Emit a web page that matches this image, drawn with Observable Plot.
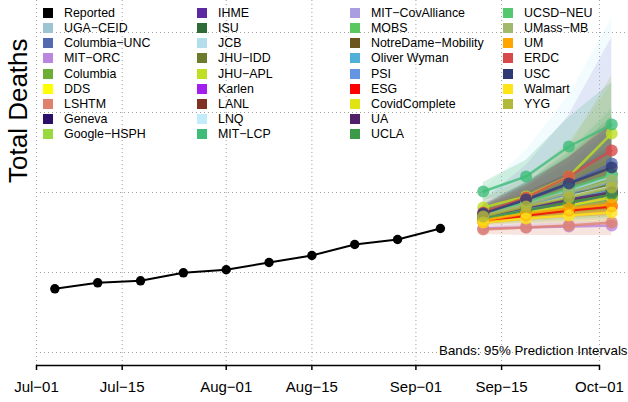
<!DOCTYPE html>
<html><head><meta charset="utf-8">
<script src="https://cdn.jsdelivr.net/npm/d3@7"></script>
<script src="https://cdn.jsdelivr.net/npm/@observablehq/plot@0.6"></script>
<style>
body{margin:0;background:#fff;}
#wrap{position:relative;width:628px;height:402px;font-family:"Liberation Sans",Arial,Helvetica,sans-serif;}
#legend{position:absolute;left:0;top:0;width:628px;height:150px;pointer-events:none;}
.item{position:absolute;height:15px;display:flex;align-items:center;font-size:12.4px;white-space:nowrap;color:#000;}
.sw{width:10px;height:10px;margin-right:11px;flex:none;}
</style></head><body><div id="wrap"></div>
<script>
// ---- data ----
const reportedDates = ["2020-07-04","2020-07-11","2020-07-18","2020-07-25","2020-08-01","2020-08-08","2020-08-15","2020-08-22","2020-08-29","2020-09-05"];
const reportedDeaths = [4796, 4871, 4896, 4996, 5034, 5125, 5213, 5350, 5413, 5550];

const models = ["UGA-CEID","Columbia-UNC","MIT-ORC","Columbia","DDS","LSHTM","Geneva","Google-HSPH","IHME","ISU","JCB","JHU-IDD","JHU-APL","Karlen","LANL","LNQ","MIT-LCP","MIT-CovAlliance","MOBS","NotreDame-Mobility","Oliver Wyman","PSI","ESG","CovidComplete","UA","UCLA","UCSD-NEU","UMass-MB","UM","ERDC","USC","Walmart","YYG"];
const modelColors = ["#9cc4d2","#5369b0","#bb86e0","#6cad33","#ffff00","#e0826a","#2b0f68","#98da3e","#5c2aa0","#2f6b36","#b2dfeb","#6d7b2d","#bedf22","#a21ff0","#7f3222","#c2ecfa","#3fbd78","#a99edf","#5ac85e","#6b5420","#4fb0d8","#6395e3","#ff0000","#e0e414","#52206a","#3b9a48","#55c76e","#a2b86c","#ffa500","#d84a4a","#2f3a74","#ffe41a","#b1b83a"];

const forecastDates = ["2020-09-12","2020-09-19","2020-09-26","2020-10-03"];
const pointForecast = [
  [5700,5813,5938,6050],[5725,5900,6113,6363],[5550,5563,5575,5588],[5700,5825,5988,6175],
  [5675,5800,5963,6150],[5538,5563,5588,5625],[5713,5863,6000,6025],[5675,5775,5875,5963],
  [5688,5775,5875,5975],[5700,5838,6025,6225],[5713,5863,6025,6200],[5700,5825,5963,6100],
  [5813,5950,6200,6738],[5675,5763,5850,5925],[5700,5813,5925,6025],[5700,5825,5950,6075],
  [6013,6200,6575,6850],[5688,5788,5900,6000],[5663,5750,5838,5925],[5688,5788,5888,5988],
  [5688,5800,5925,6038],[5700,5838,5988,6138],[5638,5713,5775,5825],[5663,5750,5838,5938],
  [5700,5813,5913,6000],[5675,5775,5875,5975],[5725,5875,6050,6225],[5713,5850,6000,6150],
  [5650,5738,5800,5850],[5750,5938,6200,6525],[5738,5913,6113,6313],[5625,5675,5713,5750],
  [5700,5825,5938,6063]
];
const lower95 = [
  [5650,5713,5775,5825],[5663,5775,5900,6038],[5538,5550,5550,5563],[5638,5725,5825,5925],
  [5625,5700,5788,5875],[5475,5462,5462,5462],[5663,5763,5850,5838],[5613,5663,5700,5738],
  [5650,5700,5763,5825],[5625,5688,5763,5838],[5638,5713,5788,5850],[5625,5675,5738,5788],
  [5700,5750,5825,5900],[5613,5663,5700,5738],[5650,5725,5788,5838],[5575,5600,5625,5638],
  [5900,6013,6250,6438],[5588,5613,5638,5663],[5600,5638,5663,5688],[5625,5675,5713,5750],
  [5638,5700,5763,5813],[5625,5700,5775,5838],[5600,5650,5688,5713],[5600,5650,5700,5738],
  [5638,5700,5750,5788],[5625,5688,5738,5788],[5650,5738,5838,5925],[5638,5713,5788,5850],
  [5600,5663,5700,5725],[5675,5800,6000,6238],[5650,5775,5925,6063],[5588,5613,5625,5638],
  [5638,5725,5800,5863]
];
const upper95 = [
  [5775,6000,6250,6550],[5825,6100,6475,6950],[5575,5600,5625,5650],[5800,6000,6300,6700],
  [5763,5975,6263,6650],[5625,5725,5850,6000],[5788,6013,6238,6400],[5775,5963,6200,6475],
  [5750,5913,6113,6350],[5813,6063,6450,6950],[5825,6113,6525,7075],[5813,6050,6363,6775],
  [5925,6175,6625,7350],[5763,5925,6125,6388],[5775,5950,6163,6425],[6025,6525,7213,8175],
  [6125,6400,6938,7375],[5900,6338,6963,7938],[5763,5938,6163,6450],[5788,5988,6238,6600],
  [5775,5975,6225,6550],[5813,6050,6375,6800],[5700,5825,5950,6088],[5763,5925,6125,6400],
  [5800,6000,6238,6538],[5763,5938,6150,6425],[5838,6113,6500,7038],[5813,6100,6563,7463],
  [5725,5863,6000,6138],[5838,6088,6438,6900],[5850,6125,6438,6850],[5688,5788,5888,5988],
  [5800,6000,6200,6488]
];
const xTickDates = ["2020-07-01","2020-07-15","2020-08-01","2020-08-15","2020-09-01","2020-09-15","2020-10-01"];
const yGridValues = [4000, 5000, 6000, 7000, 8000];

// ---- build ----
const parse = d3.utcParse("%Y-%m-%d");
const reported = reportedDates.map((d, i) => ({date: parse(d), deaths: reportedDeaths[i]}));
const fc = [];
models.forEach((m, i) => forecastDates.forEach((d, j) => fc.push({
  model: m, date: parse(d), point: pointForecast[i][j], lo: lower95[i][j], hi: upper95[i][j]
})));
const yMin = 3837.5, yMax = 8400;
const dash = s => s.replace(/-/g, "\u2212");
const fmt = d => dash(d3.utcFormat("%b-%d")(d));
const ticks = xTickDates.map(parse);
const gridStyle = {stroke: "#a0a0a0", strokeOpacity: 1, strokeDasharray: "1,3", strokeWidth: 1};

const chart = Plot.plot({
  width: 628, height: 402,
  marginLeft: 36, marginRight: 0, marginTop: 0, marginBottom: 37,
  style: {fontFamily: '"Liberation Sans", Arial, Helvetica, sans-serif', background: "white", color: "black", overflow: "visible"},
  x: {type: "utc", domain: [parse("2020-07-01"), new Date(Date.UTC(2020, 9, 5, 17, 45))]},
  y: {domain: [yMin, yMax], axis: null},
  color: {domain: models, range: modelColors},
  marks: [
    Plot.gridY(yGridValues, gridStyle),
    Plot.gridX(ticks, gridStyle),
    Plot.areaY(fc, {x: "date", y1: "lo", y2: "hi", z: "model", fill: "model", fillOpacity: 0.22}),
    Plot.line(fc, {x: "date", y: "point", z: "model", stroke: "model", strokeWidth: 2.5, strokeOpacity: 0.8}),
    Plot.dot(fc, {x: "date", y: "point", fill: "model", r: 6, fillOpacity: 0.8}),
    Plot.line(reported, {x: "date", y: "deaths", stroke: "black", strokeWidth: 2}),
    Plot.dot(reported, {x: "date", y: "deaths", fill: "black", r: 4.7}),
    Plot.ruleY([yMin], {x1: () => ticks[0], x2: () => ticks[ticks.length - 1], stroke: "black", strokeWidth: 1.5}),
    Plot.axisX(ticks, {tickFormat: fmt, tickSize: 5, tickPadding: 11, fontSize: 15, stroke: "black", strokeWidth: 1.5}),
    Plot.text(["Total Deaths"], {frameAnchor: "left", rotate: -90, dx: -18, fontSize: 26, lineAnchor: "middle", text: d => d}),
    Plot.text(["Bands: 95% Prediction Intervals"], {frameAnchor: "bottom-right", textAnchor: "end", lineAnchor: "middle", dx: -1, dy: -14.5, fontSize: 13.3, text: d => d})
  ]
});
const wrap = document.getElementById("wrap");
wrap.appendChild(chart);

// legend (inside plot, top-left, 4 columns)
const legendNames = ["Reported", ...models];
const legendColors = ["#000000", ...modelColors];
const colX = [43, 197, 350, 503];
const leg = document.createElement("div");
leg.id = "legend";
legendNames.forEach((n, k) => {
  const col = Math.floor(k / 9), row = k % 9;
  const it = document.createElement("div");
  it.className = "item";
  it.style.left = colX[col] + "px";
  it.style.top = (12.9 + 15.15 * row - 7.5) + "px";
  const sw = document.createElement("span");
  sw.className = "sw";
  sw.style.background = legendColors[k];
  const tx = document.createElement("span");
  tx.textContent = dash(n);
  it.appendChild(sw); it.appendChild(tx);
  leg.appendChild(it);
});
wrap.appendChild(leg);
</script></body></html>
